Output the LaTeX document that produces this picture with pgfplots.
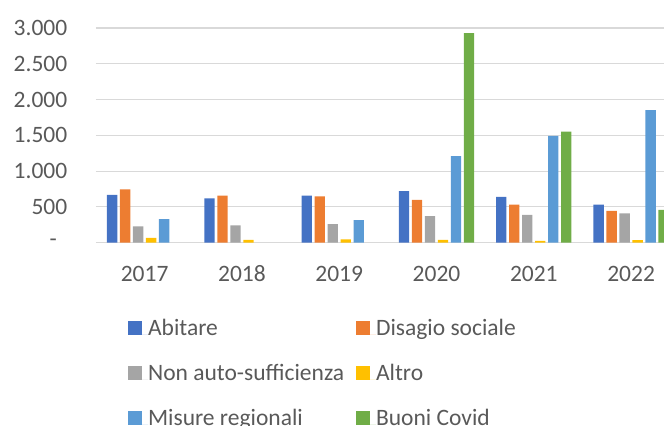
\documentclass[border=0pt]{standalone}
\usepackage{fontspec}
\setmainfont{Carlito}
\usepackage{pgfplots}
\pgfplotsset{compat=1.18}
\definecolor{cA}{HTML}{4472C4}
\definecolor{cB}{HTML}{ED7D31}
\definecolor{cC}{HTML}{A5A5A5}
\definecolor{cD}{HTML}{FFC000}
\definecolor{cE}{HTML}{5B9BD5}
\definecolor{cF}{HTML}{70AD47}
\definecolor{txt}{HTML}{595959}
\definecolor{gridc}{HTML}{D9D9D9}
\newcommand{\lfont}{\fontsize{11.75}{14}\selectfont}
\begin{document}
\begin{tikzpicture}
\begin{axis}[
  at={(0,0)}, anchor=south west,
  scale only axis, width=284pt, height=107.35pt,
  xmin=-0.5, xmax=5.338, ymin=0, ymax=3000,
  ybar, bar width=0.106,
  axis line style={draw=none},
  major tick length=0pt,
  ytick={0,500,1000,1500,2000,2500,3000},
  yticklabels={{\makebox[8.85pt][l]{-}},500,1.000,1.500,2.000,2.500,3.000},
  xtick={0,1,2,3,4,5},
  xticklabels={2017,2018,2019,2020,2021,2022},
  ymajorgrids, grid style={draw=gridc, line width=0.55pt},
  tick label style={font=\lfont, text=txt, inner sep=0pt},
  yticklabel style={xshift=-14.15pt},
  xticklabel style={anchor=base, yshift=-19.6pt},
  legend columns=2, legend cell align=left,
  legend style={draw=none, fill=none, at={(rel axis cs:0,0)}, anchor=north west,
    xshift=16pt, yshift=-36.6pt, inner sep=0pt, nodes={inner sep=0pt, text height=9.5pt, text depth=3.5pt},
    column sep=0pt, /tikz/row sep=9.5pt, font=\lfont, text=txt},
  legend image code/.code={\fill[#1] (0pt,-2.7pt) rectangle (6.7pt,4.0pt); \path (0pt,-2.7pt) -- (9.85pt,-2.7pt);},
]
\addplot[fill=cA, draw=none, bar shift=-0.334] coordinates {(0,667) (1,620) (2,657) (3,722) (4,639) (5,531)};
\addlegendentry{\makebox[104.15pt][l]{Abitare}}
\addplot[fill=cB, draw=none, bar shift=-0.2004] coordinates {(0,746) (1,657) (2,648) (3,597) (4,531) (5,443)};
\addlegendentry{Disagio sociale}
\addplot[fill=cC, draw=none, bar shift=-0.0668] coordinates {(0,229) (1,243) (2,261) (3,373) (4,387) (5,411)};
\addlegendentry{\makebox[104.15pt][l]{Non auto-sufficienza}}
\addplot[fill=cD, draw=none, bar shift=0.0668] coordinates {(0,66) (1,38) (2,47) (3,38) (4,24) (5,35)};
\addlegendentry{Altro}
\addplot[fill=cE, draw=none, bar shift=0.2004] coordinates {(0,331) (2,317) (3,1211) (4,1491) (5,1854)};
\addlegendentry{\makebox[104.15pt][l]{Misure regionali}}
\addplot[fill=cF, draw=none, bar shift=0.334] coordinates {(3,2930) (4,1551) (5,457)};
\addlegendentry{Buoni Covid}
\end{axis}
\pgfresetboundingbox
\path[use as bounding box] (-48pt,-91.65pt) rectangle (284pt,121.35pt);
\end{tikzpicture}
\end{document}
